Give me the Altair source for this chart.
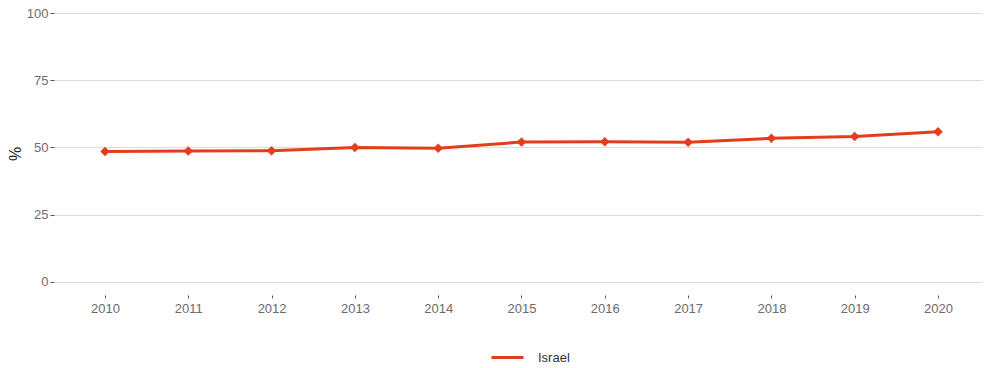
import altair as alt
import pandas as pd

years = [2010, 2011, 2012, 2013, 2014, 2015, 2016, 2017, 2018, 2019, 2020]
values = [48.5, 48.7, 48.8, 50.0, 49.7, 52.0, 52.1, 51.9, 53.4, 54.1, 55.9]
country = ["Israel"] * len(years)
y_ticks = [0, 25, 50, 75, 100]

df = pd.DataFrame({"year": years, "value": values, "country": country})

RED = "#E43D1E"
FONT = "Liberation Sans"

x_enc = alt.X(
    "year:Q",
    scale=alt.Scale(domain=[2009.388, 2020.528], nice=False, zero=False),
    axis=alt.Axis(
        title=None, values=years, format="d", grid=False, domain=False,
        ticks=True, tickSize=3, tickColor="#555555", labelPadding=4,
        labelColor="#6b6b6b", labelFontSize=13, labelFont=FONT,
    ),
)
y_enc = alt.Y(
    "value:Q",
    scale=alt.Scale(domain=[-5, 100.5], nice=False, zero=False),
    axis=alt.Axis(
        title="%", values=y_ticks, grid=True, gridColor="#dcdcdc", gridWidth=1,
        domain=False, ticks=True, tickSize=4, tickColor="#555555", labelPadding=2,
        labelColor="#6b6b6b", labelFontSize=13, labelFont=FONT,
        titleFont=FONT, titleFontSize=16, titleFontWeight="normal",
        titleColor="#222222", titlePadding=3,
    ),
)

line = alt.Chart(df).mark_line(strokeWidth=3).encode(
    x=x_enc,
    y=y_enc,
    color=alt.Color(
        "country:N",
        scale=alt.Scale(range=[RED]),
        legend=alt.Legend(
            title=None, orient="none", legendX=436, legendY=328,
            symbolType="stroke", symbolSize=1024, symbolStrokeWidth=3,
            labelFont=FONT, labelFontSize=13, labelColor="#333333",
            labelOffset=13, padding=0,
        ),
    ),
)
points = alt.Chart(df).mark_point(
    shape="diamond", filled=True, size=90, opacity=1, color=RED
).encode(x="year:Q", y="value:Q")

chart = (
    alt.layer(line, points)
    .properties(
        width=928, height=283,
        autosize=alt.AutoSizeParams(type="none"),
        padding={"left": 46, "top": 4, "right": 2, "bottom": 73},
        background="white",
    )
    .configure_view(strokeWidth=0, stroke="transparent")
)

chart.save("out.html", embed_options={"renderer": "svg", "actions": False})
